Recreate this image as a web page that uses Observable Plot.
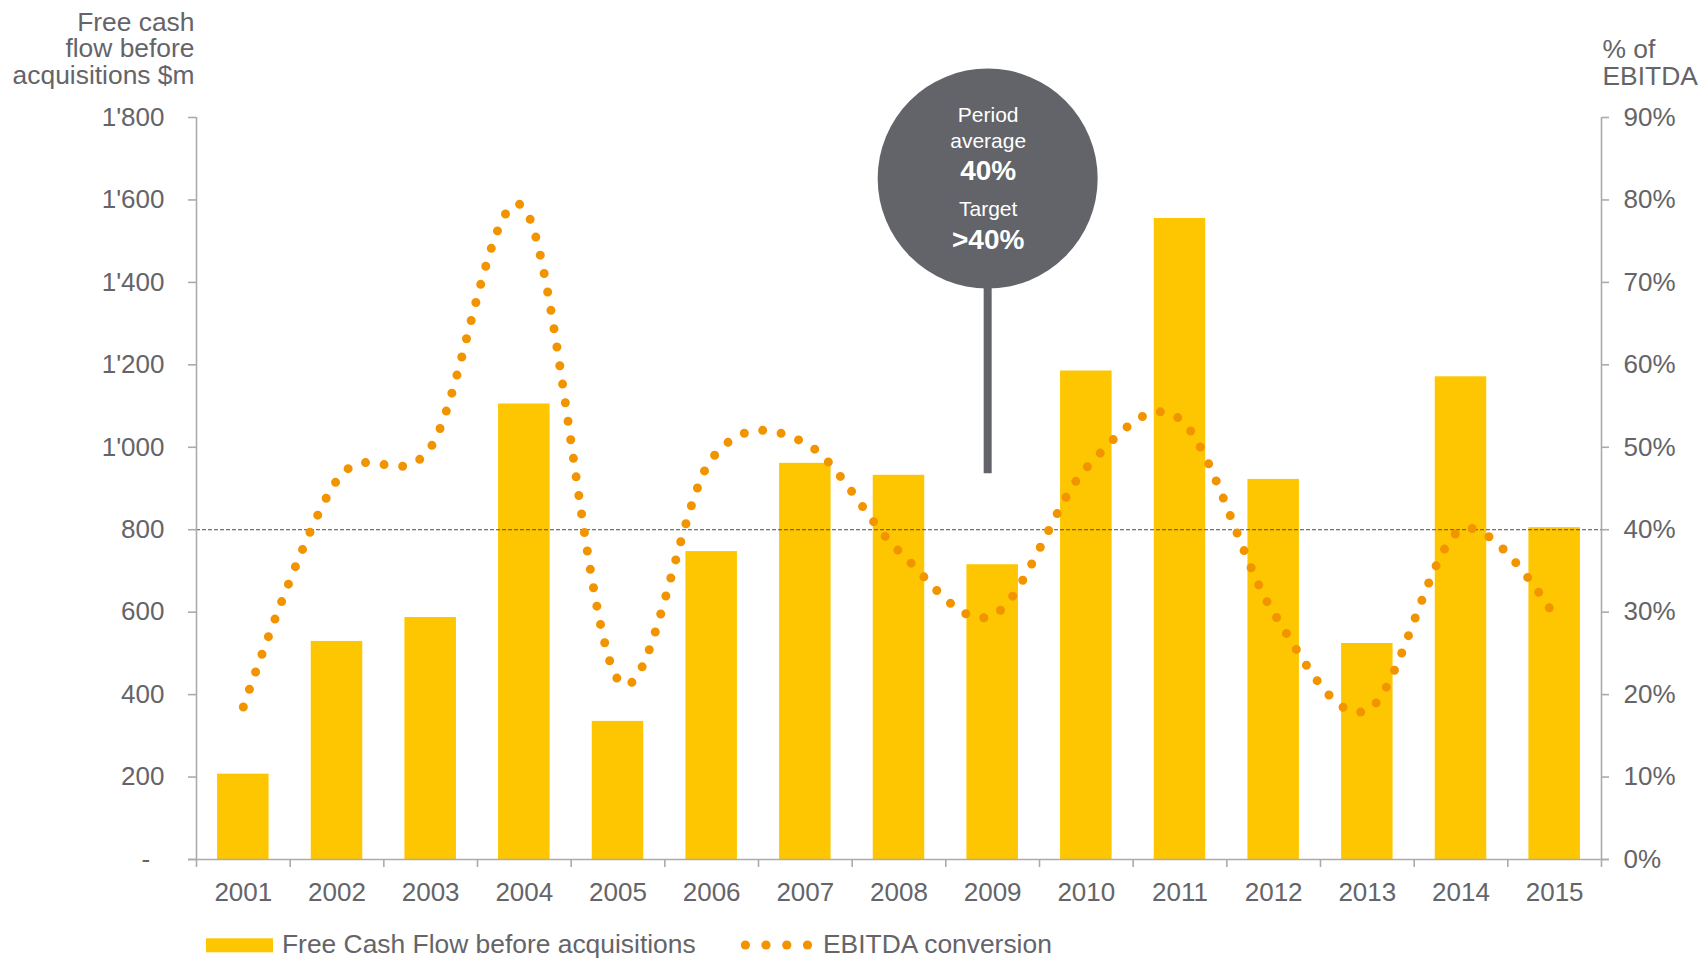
<!DOCTYPE html>
<html>
<head>
<meta charset="utf-8">
<script src="https://cdn.jsdelivr.net/npm/d3@7"></script>
<script src="https://cdn.jsdelivr.net/npm/@observablehq/plot@0.6"></script>
<style>
  html, body { margin: 0; padding: 0; background: #fff; overflow: hidden; }
  #chart { width: 1700px; height: 959px; font-family: "Liberation Sans", Arial, sans-serif; }
  #legend { display: block; }
</style>
</head>
<body>
<div id="chart"></div>
<script>
// ---------- data ----------
const years = ["2001","2002","2003","2004","2005","2006","2007","2008","2009","2010","2011","2012","2013","2014","2015"];
const fcf = [207, 529, 587, 1105, 335, 747, 961, 932, 715, 1185, 1555, 922, 524, 1171, 805];       // $m
const conversion = [18.5, 46, 50, 79, 21.8, 48.6, 50.5, 37.4, 29.6, 47.5, 53.4, 29.9, 18.1, 40, 29.5]; // % of EBITDA
const fcfTicks = [0, 200, 400, 600, 800, 1000, 1200, 1400, 1600, 1800];
const pctTicks = [0, 10, 20, 30, 40, 50, 60, 70, 80, 90];
const referenceLevel = [800];
const leftTitle = "Free cash\nflow before\nacquisitions $m";
const rightTitle = "% of\nEBITDA";
const callout = [{year: "2009", cy: 1652, stemBottom: 936}];
const calloutLines = [
  {text: "Period",  size: 21, weight: "normal", dy: -63},
  {text: "average", size: 21, weight: "normal", dy: -37},
  {text: "40%",     size: 28, weight: "bold",   dy: -7},
  {text: "Target",  size: 21, weight: "normal", dy: 31},
  {text: ">40%",    size: 28, weight: "bold",   dy: 62}
];
const legendLabels = ["Free Cash Flow before acquisitions", "EBITDA conversion"];

// ---------- style ----------
const YELLOW = "#FDC600", ORANGE = "#F29400", TEXT = "#646469", CIRCLE = "#636469", AX = "#ababab";
const W = 1700, H = 925, mL = 196, mR = 99, mT = 117, mB = 66;
const step = (W - mL - mR) / years.length;
const pctScale = 1800 / 90;

const rows = years.map((y, i) => ({year: y, fcf: fcf[i], conv: conversion[i]}));
const fmtLeft = d => d === 0 ? "-\u2007" : d3.format(",")(d).replace(/,/g, "'");

const plot = Plot.plot({
  width: W, height: H,
  marginLeft: mL, marginRight: mR, marginTop: mT, marginBottom: mB,
  style: {fontFamily: '"Liberation Sans", Arial, sans-serif', fontSize: "26px", color: TEXT, background: "white"},
  x: {type: "band", domain: years, paddingInner: 0.45, paddingOuter: 0.225, round: false},
  y: {domain: [0, 1800]},
  marks: [
    Plot.barY(rows, {x: "year", y: "fcf", fill: YELLOW}),
    Plot.ruleY(referenceLevel, {stroke: "#4d4d52", strokeWidth: 1, strokeDasharray: "4 2"}),
    Plot.line(rows, {x: "year", y: d => d.conv * pctScale, curve: "cardinal",
      stroke: ORANGE, strokeWidth: 9, strokeDasharray: "0 18.7", strokeLinecap: "round"}),
    // axis lines and ticks
    Plot.ruleY([0], {stroke: AX, strokeWidth: 1.6, insetLeft: -8, insetRight: -8}),
    Plot.ruleX([years[0]], {dx: -step / 2, y1: 1800, y2: 0, insetBottom: -8, stroke: AX, strokeWidth: 1.6}),
    Plot.ruleX([years[years.length - 1]], {dx: step / 2, y1: 1800, y2: 0, insetBottom: -8, stroke: AX, strokeWidth: 1.6}),
    Plot.ruleX(years.slice(1), {dx: -step / 2, y1: 0, y2: 0, insetBottom: -8, stroke: AX, strokeWidth: 1.6}),
    Plot.axisX({tickSize: 0, tickPadding: 23, fill: TEXT, label: null}),
    Plot.axisY(fcfTicks, {anchor: "left", tickSize: 8, tickPadding: 24, stroke: AX, strokeWidth: 1.6, fill: TEXT, tickFormat: fmtLeft, label: null}),
    Plot.axisY(pctTicks.map(p => p * pctScale), {anchor: "right", tickSize: 7, tickPadding: 15, stroke: AX, strokeWidth: 1.6, fill: TEXT,
      tickFormat: d => `${Math.round(d / pctScale)}%`, label: null}),
    // axis titles
    Plot.text([leftTitle], {text: d => d, frameAnchor: "top-left", textAnchor: "end", lineAnchor: "top",
      dx: -2, dy: -105.5, lineHeight: 1.0, fill: TEXT, fontSize: 26.4}),
    Plot.text([rightTitle], {text: d => d, frameAnchor: "top-right", textAnchor: "start", lineAnchor: "top",
      dx: 1, dy: -78.5, lineHeight: 1.02, fill: TEXT, fontSize: 26.4}),
    // callout
    Plot.ruleX(callout, {x: "year", y1: "stemBottom", y2: "cy", stroke: CIRCLE, strokeWidth: 8, dx: -5}),
    Plot.dot(callout, {x: "year", y: "cy", r: 110, fill: CIRCLE, stroke: null, dx: -5}),
    ...calloutLines.map(l => Plot.text(callout, {x: "year", y: "cy", text: () => l.text, dx: -4.5, dy: l.dy,
      fill: "white", fontSize: l.size, fontWeight: l.weight}))
  ]
});

const chart = document.getElementById("chart");
chart.appendChild(plot);

// ---------- legend ----------
const ns = "http://www.w3.org/2000/svg";
const leg = document.createElementNS(ns, "svg");
leg.setAttribute("id", "legend");
leg.setAttribute("width", 1700);
leg.setAttribute("height", 34);
leg.setAttribute("font-family", '"Liberation Sans", Arial, sans-serif');
leg.setAttribute("font-size", "26.4");
const add = (tag, attrs, txt) => {
  const el = document.createElementNS(ns, tag);
  for (const k in attrs) el.setAttribute(k, attrs[k]);
  if (txt) el.textContent = txt;
  leg.appendChild(el);
  return el;
};
add("rect", {x: 206, y: 13.3, width: 67, height: 14, fill: YELLOW});
add("text", {x: 282, y: 28.3, fill: TEXT}, legendLabels[0]);
[745.4, 766, 786.8, 807.5].forEach(cx => add("circle", {cx, cy: 20, r: 4.6, fill: ORANGE}));
add("text", {x: 823, y: 28.3, fill: TEXT}, legendLabels[1]);
chart.appendChild(leg);
</script>
</body>
</html>
